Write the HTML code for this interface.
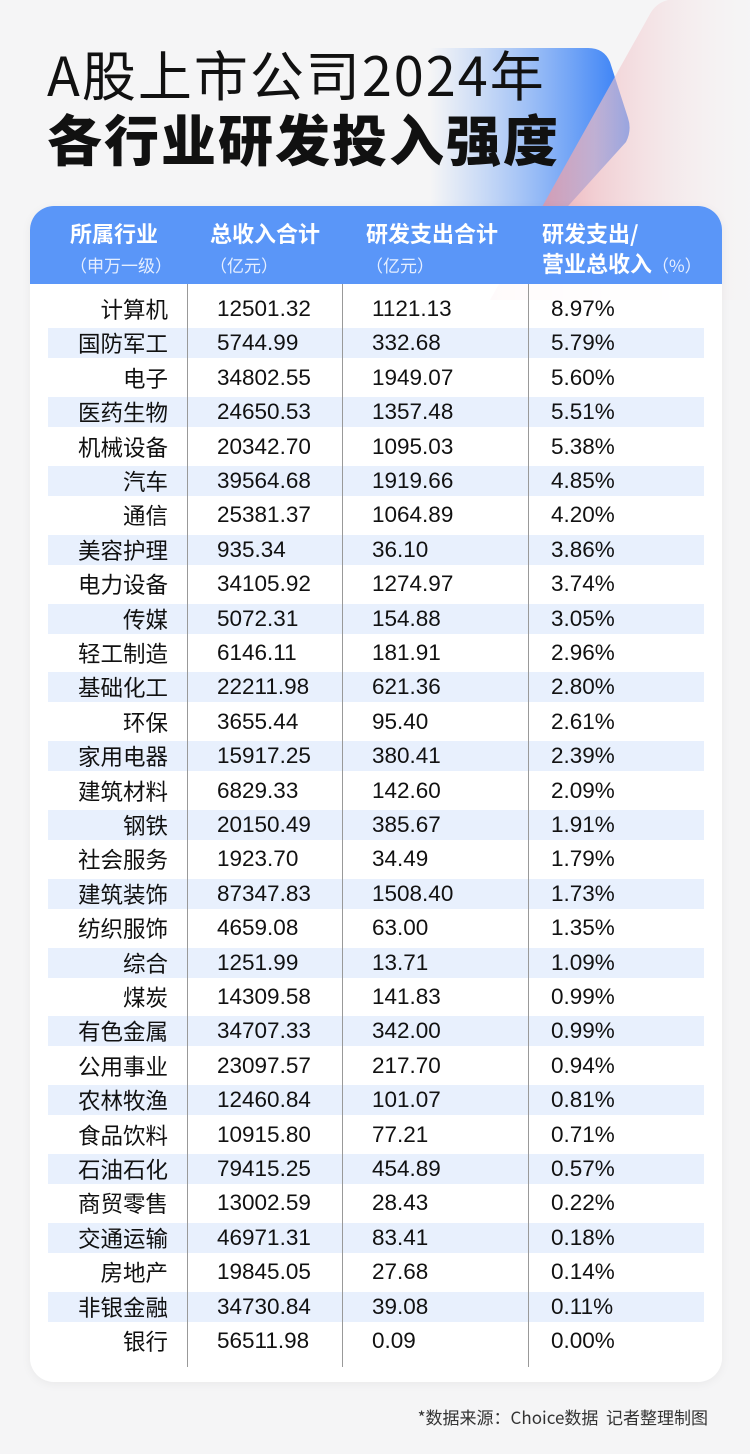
<!DOCTYPE html>
<html><head><meta charset="utf-8"><style>
*{margin:0;padding:0;box-sizing:border-box}
body{width:750px;height:1454px;background:#f5f5f6;position:relative;overflow:hidden;font-family:"Liberation Sans","Noto Sans CJK SC",sans-serif;color:#111}
.abs{position:absolute}
.t1{left:47px;top:40px;font-size:54px;font-weight:400;letter-spacing:2px;line-height:66px;font-family:"Noto Sans CJK SC",sans-serif;white-space:nowrap}
.t2{left:47px;top:104px;font-size:55px;font-weight:900;line-height:66px;letter-spacing:2px;font-family:"Noto Sans CJK SC",sans-serif;white-space:nowrap}
.card{left:30px;top:206px;width:692px;height:1176px;background:rgba(255,255,255,0.96);border-radius:24px;box-shadow:0 2px 10px rgba(0,0,0,0.05);overflow:hidden}
.head{left:0;top:0;width:692px;height:78px;background:#5a96f8}
.h{color:#fff;font-size:22px;font-weight:700;font-family:"Noto Sans CJK SC",sans-serif;line-height:30px;white-space:nowrap}
.h small{font-size:17px;font-weight:400;color:#e6efff}
.row{position:absolute;left:18px;width:656px;height:30px}
.c{position:absolute;font-size:22.5px;line-height:30px;font-family:"Liberation Sans","Noto Sans CJK SC",sans-serif}
.n{right:536px;text-align:right;font-family:"Noto Sans CJK SC",sans-serif}
.vl{position:absolute;top:78px;width:1px;height:1083px;background:#999}
.foot{right:42px;top:1404px;font-size:17px;color:#333;font-family:"Noto Sans CJK SC",sans-serif}
</style></head><body>
<svg class="abs" style="left:0;top:0" width="750" height="300">
<defs>
<linearGradient id="b" x1="0" x2="1" y1="0" y2="0"><stop offset="0" stop-color="#5a96f8" stop-opacity="0"/><stop offset="1" stop-color="#2f7bf6"/></linearGradient>
<linearGradient id="p" x1="0" x2="1" y1="0" y2="0"><stop offset="0" stop-color="#e46a78"/><stop offset="0.4" stop-color="#f0bcc2" stop-opacity="0.85"/><stop offset="1" stop-color="#f7f0f0" stop-opacity="0.1"/></linearGradient>
</defs>
<path d="M430,48 L588,48 Q604,48 610,62 L628,118 Q632,130 626,142 L560,215 L430,215 Z" fill="url(#b)"/>
<path d="M668,0 L750,0 L750,300 L490,300 L650,14 Q656,3 668,0 Z" fill="url(#p)" opacity="0.8"/>
</svg>
<div class="abs t1">A股上市公司2024年</div>
<div class="abs t2">各行业研发投入强度</div>
<div class="abs card">
<div class="abs head"></div>
<div class="abs h" style="left:40px;top:12px">所属行业<br><small>（申万一级）</small></div>
<div class="abs h" style="left:180px;top:12px">总收入合计<br><small>（亿元）</small></div>
<div class="abs h" style="left:336px;top:12px">研发支出合计<br><small>（亿元）</small></div>
<div class="abs h" style="left:512px;top:12px">研发支出/<br>营业总收入<small>（%）</small></div>
<div id="rows"></div>
<div class="vl" style="left:157px"></div>
<div class="vl" style="left:312px"></div>
<div class="vl" style="left:498px"></div>
</div>
<div class="abs foot">*数据来源：Choice数据&nbsp; 记者整理制图</div>
<script>
var d=[["计算机","12501.32","1121.13","8.97%"],["国防军工","5744.99","332.68","5.79%"],["电子","34802.55","1949.07","5.60%"],["医药生物","24650.53","1357.48","5.51%"],["机械设备","20342.70","1095.03","5.38%"],["汽车","39564.68","1919.66","4.85%"],["通信","25381.37","1064.89","4.20%"],["美容护理","935.34","36.10","3.86%"],["电力设备","34105.92","1274.97","3.74%"],["传媒","5072.31","154.88","3.05%"],["轻工制造","6146.11","181.91","2.96%"],["基础化工","22211.98","621.36","2.80%"],["环保","3655.44","95.40","2.61%"],["家用电器","15917.25","380.41","2.39%"],["建筑材料","6829.33","142.60","2.09%"],["钢铁","20150.49","385.67","1.91%"],["社会服务","1923.70","34.49","1.79%"],["建筑装饰","87347.83","1508.40","1.73%"],["纺织服饰","4659.08","63.00","1.35%"],["综合","1251.99","13.71","1.09%"],["煤炭","14309.58","141.83","0.99%"],["有色金属","34707.33","342.00","0.99%"],["公用事业","23097.57","217.70","0.94%"],["农林牧渔","12460.84","101.07","0.81%"],["食品饮料","10915.80","77.21","0.71%"],["石油石化","79415.25","454.89","0.57%"],["商贸零售","13002.59","28.43","0.22%"],["交通运输","46971.31","83.41","0.18%"],["房地产","19845.05","27.68","0.14%"],["非银金融","34730.84","39.08","0.11%"],["银行","56511.98","0.09","0.00%"]];
var h="";
for(var i=0;i<d.length;i++){var y=309+i*34.4-206-15;
h+='<div class="row" style="top:'+y+'px;background:'+(i%2?'#e8f0fd':'transparent')+'">'+
'<div class="c n">'+d[i][0]+'</div><div class="c" style="left:169px">'+d[i][1]+'</div><div class="c" style="left:324px">'+d[i][2]+'</div><div class="c" style="left:503px">'+d[i][3]+'</div></div>';}
document.getElementById("rows").innerHTML=h;
</script>
</body></html>
